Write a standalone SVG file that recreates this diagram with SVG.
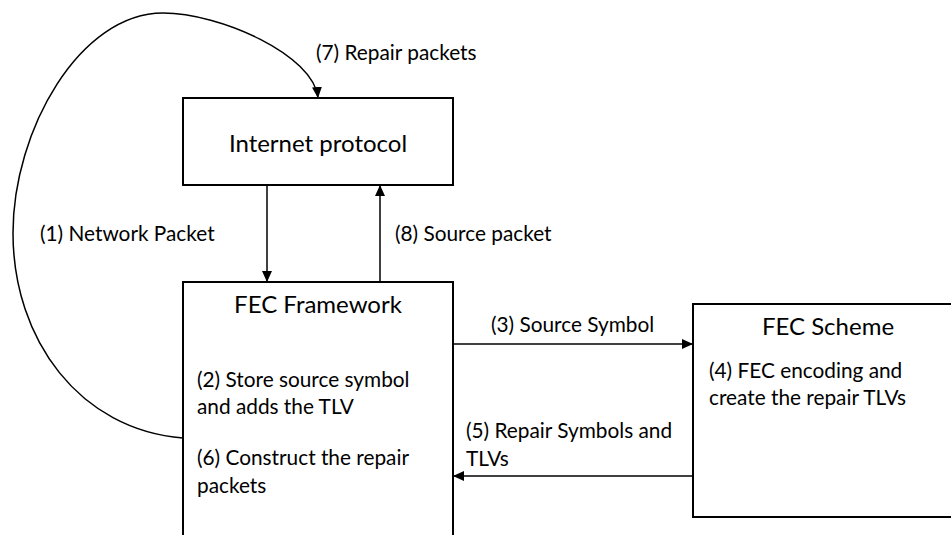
<svg xmlns="http://www.w3.org/2000/svg" width="951" height="535" viewBox="0 0 951 535">
<style>
.box{fill:#fff;stroke:#000;stroke-width:2}
.ln{fill:none;stroke:#000;stroke-width:1.5}
.t{font-family:Lato,"Liberation Sans",sans-serif;fill:#000}
.title{font-size:24px;text-anchor:middle}
.lbl{font-size:20.8px}
</style>
<defs>
<marker id="ah" markerUnits="userSpaceOnUse" markerWidth="11" markerHeight="10" refX="11" refY="5" orient="auto">
<path d="M0,0 L11,5 L0,10 Z" fill="#000"/>
</marker>
</defs>
<rect width="951" height="535" fill="#fff"/>
<g id="internet-protocol">
<rect class="box" x="183" y="98" width="270" height="87"/>
<text class="t title" x="318" y="152">Internet protocol</text>
</g>
<g id="fec-framework">
<rect class="box" x="183" y="282" width="270" height="280"/>
<text class="t title" x="318" y="313">FEC Framework</text>
<text class="t lbl" x="197" y="387">(2) Store source symbol</text>
<text class="t lbl" x="197" y="414">and adds the TLV</text>
<text class="t lbl" x="197" y="465">(6) Construct the repair</text>
<text class="t lbl" x="197" y="493">packets</text>
</g>
<g id="fec-scheme">
<rect class="box" x="693" y="304" width="270" height="213"/>
<text class="t title" x="828" y="335">FEC Scheme</text>
<text class="t lbl" x="709" y="378">(4) FEC encoding and</text>
<text class="t lbl" x="709" y="405">create the repair TLVs</text>
</g>
<g id="connectors">
<path class="ln" d="M183,438 C80,430 13,340 13,233 C13,130 80,13 163,13 C220,13 314,55 318,98" marker-end="url(#ah)"/>
<line class="ln" x1="267" y1="185" x2="267" y2="282" marker-end="url(#ah)"/>
<line class="ln" x1="380" y1="282" x2="380" y2="185" marker-end="url(#ah)"/>
<line class="ln" x1="453" y1="344" x2="693" y2="344" marker-end="url(#ah)"/>
<line class="ln" x1="693" y1="476" x2="453" y2="476" marker-end="url(#ah)"/>
<text class="t lbl" x="316" y="60">(7) Repair packets</text>
<text class="t lbl" x="40" y="241">(1) Network Packet</text>
<text class="t lbl" x="395" y="241">(8) Source packet</text>
<text class="t lbl" x="491" y="332">(3) Source Symbol</text>
<text class="t lbl" x="466" y="438">(5) Repair Symbols and</text>
<text class="t lbl" x="466" y="466">TLVs</text>
</g>
</svg>
